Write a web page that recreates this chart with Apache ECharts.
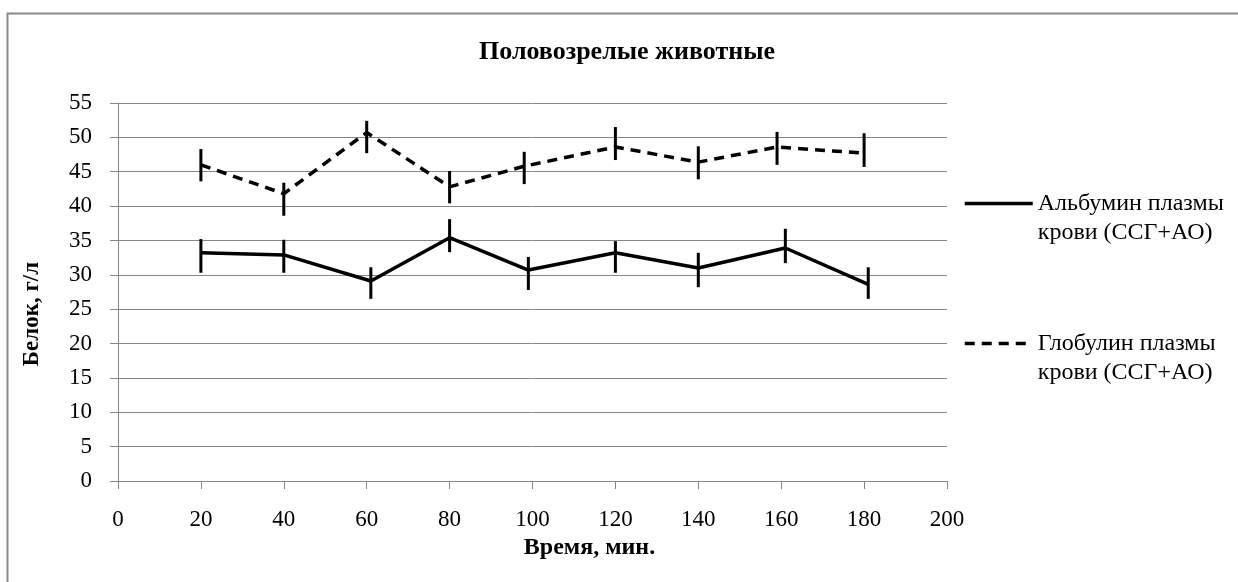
<!DOCTYPE html>
<html>
<head>
<meta charset="utf-8">
<script src="https://cdn.jsdelivr.net/npm/echarts@6/dist/echarts.min.js"></script>
<style>
html,body{margin:0;padding:0;background:#fff;}
#chart{width:1238px;height:582px;}
</style>
</head>
<body>
<div id="chart"></div>
<script>
// ---- data ----
const titleText = 'Половозрелые животные';
const xAxisName = 'Время, мин.';
const yAxisName = 'Белок, г/л';
const albName = 'Альбумин плазмы\nкрови (ССГ+АО)';
const globName = 'Глобулин плазмы\nкрови (ССГ+АО)';

const albX    = [20, 40, 61, 80, 99, 120, 140, 161, 181];
const albY    = [33.2, 32.9, 29.1, 35.4, 30.7, 33.2, 31.0, 33.9, 28.6];
const albLow  = [30.3, 30.3, 26.5, 33.3, 27.8, 30.3, 28.2, 31.7, 26.5];
const albHigh = [35.2, 35.1, 31.1, 38.1, 32.6, 34.9, 33.2, 36.7, 31.1];

const globX    = [20, 40, 60, 80, 98, 120, 140, 159, 180];
const globY    = [46.0, 41.8, 50.7, 42.8, 45.8, 48.6, 46.4, 48.6, 47.7];
const globLow  = [43.6, 38.6, 47.7, 40.4, 43.2, 46.7, 43.9, 46.0, 45.7];
const globHigh = [48.3, 43.4, 52.4, 45.1, 47.9, 51.5, 48.7, 50.8, 50.6];

const xMin = 0, xMax = 200, xStep = 20;
const yMin = 0, yMax = 55, yStep = 5;

// ---- build ----
const FONT = 'Liberation Serif';
const pairs = (xs, ys) => xs.map((x, i) => [x, ys[i]]);
const errData = (xs, lo, hi) => xs.map((x, i) => [x, lo[i], hi[i]]);

function errRender(params, api) {
  const p1 = api.coord([api.value(0), api.value(1)]);
  const p2 = api.coord([api.value(0), api.value(2)]);
  return {
    type: 'line',
    shape: { x1: p1[0], y1: p1[1], x2: p2[0], y2: p2[1] },
    style: { stroke: '#000', lineWidth: 3 }
  };
}

const chart = echarts.init(document.getElementById('chart'), null, { renderer: 'canvas' });
chart.setOption({
  animation: false,
  backgroundColor: '#fff',
  graphic: [{
    type: 'rect', left: 5, top: 11, z: -10,
    shape: { width: 1300, height: 700 },
    style: { fill: 'none', stroke: '#8a8a8a', lineWidth: 2 }
  }],
  title: {
    text: titleText,
    left: 622, top: 34, textAlign: 'center',
    textStyle: { fontFamily: FONT, fontSize: 26, fontWeight: 'bold', color: '#000' }
  },
  legend: {
    orient: 'vertical', left: 963, top: 160, padding: 0,
    itemWidth: 68, itemHeight: 20, itemGap: 53,
    data: [albName, globName],
    itemStyle: { opacity: 0 },
    lineStyle: { width: 3.5 },
    formatter: function (name) { return '\n' + name; },
    textStyle: { fontFamily: FONT, fontSize: 24, lineHeight: 29, color: '#000' }
  },
  grid: { left: 118, right: 291, top: 103, bottom: 101, containLabel: false },
  xAxis: {
    type: 'value', min: xMin, max: xMax, interval: xStep,
    name: xAxisName, nameLocation: 'middle', nameGap: 52,
    nameTextStyle: { fontFamily: FONT, fontSize: 24, fontWeight: 'bold', color: '#000', padding: [0, 0, 0, 114] },
    axisLine: { lineStyle: { color: '#868686', width: 1 } },
    axisTick: { show: true, length: 8, inside: false, lineStyle: { color: '#868686' } },
    axisLabel: { fontFamily: FONT, fontSize: 23, color: '#000', margin: 27 },
    splitLine: { show: false }
  },
  yAxis: {
    type: 'value', min: yMin, max: yMax, interval: yStep,
    name: yAxisName, nameLocation: 'middle', nameGap: 74,
    nameTextStyle: { fontFamily: FONT, fontSize: 23, fontWeight: 'bold', color: '#000', padding: [0, 44, 0, 0] },
    axisLine: { show: true, lineStyle: { color: '#868686', width: 1 } },
    axisTick: { show: true, length: 8, lineStyle: { color: '#868686' } },
    axisLabel: { fontFamily: FONT, fontSize: 23, color: '#000', margin: 26 },
    splitLine: { show: true, lineStyle: { color: '#868686', width: 1 } }
  },
  series: [
    {
      name: albName, type: 'line', data: pairs(albX, albY),
      symbol: 'none', lineStyle: { color: '#000', width: 3.5, type: 'solid' },
      itemStyle: { color: '#000' }, z: 3
    },
    {
      name: globName, type: 'line', data: pairs(globX, globY),
      symbol: 'none', lineStyle: { color: '#000', width: 3.5, type: [10, 7] },
      itemStyle: { color: '#000' }, z: 3
    },
    {
      name: 'errA', type: 'custom', renderItem: errRender,
      data: errData(albX, albLow, albHigh), z: 4
    },
    {
      name: 'errG', type: 'custom', renderItem: errRender,
      data: errData(globX, globLow, globHigh), z: 4
    }
  ]
});
</script>
</body>
</html>
